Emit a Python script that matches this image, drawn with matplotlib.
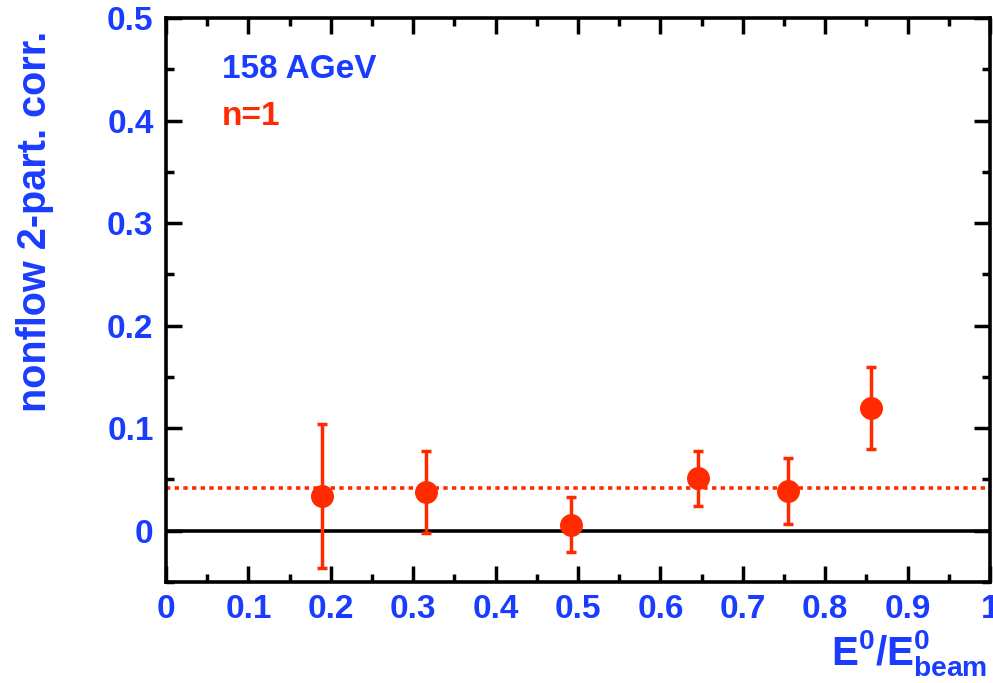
import matplotlib
matplotlib.use('Agg')
import matplotlib.pyplot as plt
from matplotlib.ticker import MultipleLocator

plt.rcParams['font.family'] = ['Liberation Sans', 'DejaVu Sans']
plt.rcParams['font.weight'] = 'bold'
plt.rcParams['mathtext.fontset'] = 'custom'
plt.rcParams['mathtext.rm'] = 'Liberation Sans:bold'
plt.rcParams['mathtext.it'] = 'Liberation Sans:bold'
plt.rcParams['mathtext.bf'] = 'Liberation Sans:bold'

# data
e_ratio = [0.189, 0.316, 0.491, 0.646, 0.755, 0.856]
corr = [0.034, 0.038, 0.006, 0.051, 0.039, 0.120]
corr_err = [0.070, 0.040, 0.027, 0.027, 0.032, 0.040]
mean_level = 0.042

blue = '#1a3cff'
red = '#ff2a00'

fig = plt.figure(figsize=(9.93, 6.83), dpi=100)
ax = fig.add_axes([0.1672, 0.1479, 0.8298, 0.8257])

ax.axhline(0, color='black', lw=2.6, zorder=1)
ax.axhline(mean_level, color=red, lw=2.6, ls=(0, (1.2, 1.2)), zorder=1)
ax.errorbar(e_ratio, corr, yerr=corr_err, fmt='o', color=red, ms=15.5,
            elinewidth=2.5, capsize=3.5, capthick=2.5, zorder=3)

ax.set_xlim(0, 1)
ax.set_ylim(-0.05, 0.5)
ax.xaxis.set_minor_locator(MultipleLocator(0.05))
ax.yaxis.set_minor_locator(MultipleLocator(0.05))
ax.set_xticks([0, 0.1, 0.2, 0.3, 0.4, 0.5, 0.6, 0.7, 0.8, 0.9, 1.0])
ax.set_xticklabels(['0', '0.1', '0.2', '0.3', '0.4', '0.5', '0.6', '0.7', '0.8', '0.9', '1'])
ax.set_yticks([0, 0.1, 0.2, 0.3, 0.4, 0.5])
ax.set_yticklabels(['0', '0.1', '0.2', '0.3', '0.4', '0.5'])

ax.tick_params(which='both', direction='in', top=True, right=True,
               colors='black', labelcolor=blue, labelsize=24, width=2.5)
ax.tick_params(which='major', length=11.5)
ax.tick_params(which='minor', length=5.5)
ax.tick_params(axis='x', which='major', pad=9)
ax.tick_params(axis='y', which='major', pad=9)
for lab in ax.get_xticklabels() + ax.get_yticklabels():
    lab.set_fontweight('bold')
for s in ax.spines.values():
    s.set_linewidth(2.6)

fig.text(16 / 993, 1 - 31 / 683, 'nonflow 2-part. corr.', color=blue, fontsize=28.5,
         fontweight='bold', rotation=90, ha='left', va='top')

fig.text(0.994, 0.008, r'$\mathrm{E^{0}/E^{0}_{beam}}$', color=blue, fontsize=29,
         ha='right', va='bottom')

ax.text(0.068, 0.908, '158 AGeV', transform=ax.transAxes, color=blue,
        fontsize=24, fontweight='bold', va='center')
ax.text(0.068, 0.826, 'n=1', transform=ax.transAxes, color=red,
        fontsize=24, fontweight='bold', va='center')

fig.savefig('out.png', dpi=100)
